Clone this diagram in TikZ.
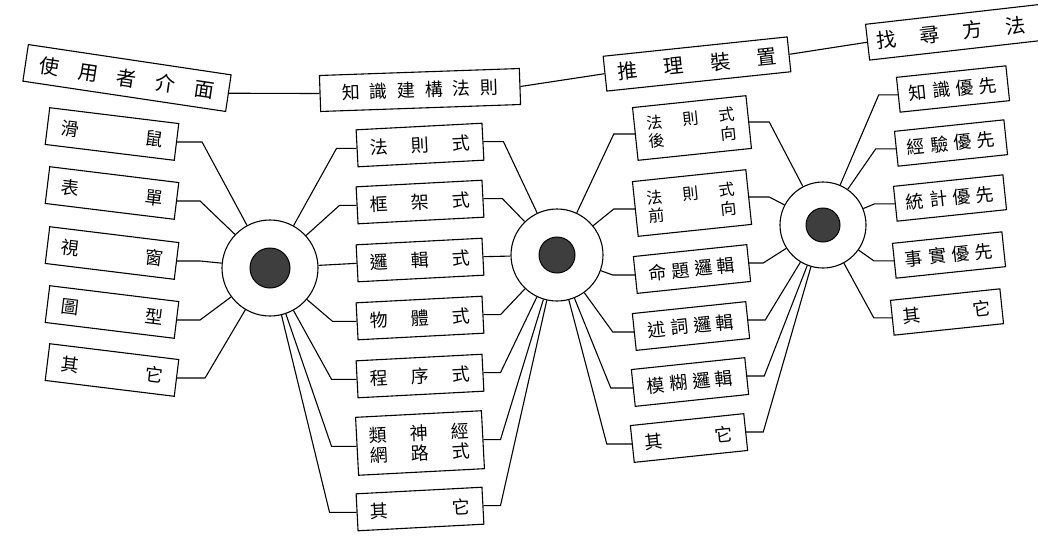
\documentclass[tikz,border=0pt]{standalone}
\usepackage{fontspec}
\newfontfamily\tc{Noto Sans CJK TC}
\definecolor{dot}{RGB}{62,62,62}
\begin{document}
\begin{tikzpicture}[x=1pt,y=-1pt,
  bx/.style={draw, line width=1.1pt, inner sep=0pt, align=center, fill=white},
  fbig/.style={font=\tc\fontsize{20}{23}\selectfont},
  fmid/.style={font=\tc\fontsize{18}{21}\selectfont},
  fsm/.style={font=\tc\fontsize{16}{18.5}\selectfont},
  ln/.style={line width=1.1pt},
  ring/.style={circle, draw, line width=1.1pt, fill=white, inner sep=0pt},
  core/.style={circle, draw, line width=1pt, fill=dot, inner sep=0pt},
  colA/.style={bx, fmid, minimum width=130pt, minimum height=37pt, rotate=-7},
  colB/.style={bx, fmid, minimum width=126pt, minimum height=37pt, rotate=3},
  colC/.style={bx, fmid, minimum width=114pt, minimum height=37pt, rotate=6},
  colD/.style={bx, fmid, minimum width=110pt, minimum height=35pt, rotate=6}]
\useasboundingbox (0,0) rectangle (1038,536);
\clip (0,0) rectangle (1038,536);
\fill[white] (0,0) rectangle (1038,536);

% ---- top row ----
\node[bx, fbig, minimum width=205pt, minimum height=37pt, rotate=-8.5] (ui) at (127,78)
  {\hbox to 176pt{使\hfill 用\hfill 者\hfill 介\hfill 面}};
\node[bx, fmid, minimum width=200pt, minimum height=36pt, rotate=2] (kb) at (420,90)
  {\hbox to 156pt{知\hfill 識\hfill 建\hfill 構\hfill 法\hfill 則}};
\node[bx, fbig, minimum width=185pt, minimum height=35pt, rotate=6] (inf) at (697,64)
  {\hbox to 160pt{推\hfill 理\hfill 裝\hfill 置}};
\node[bx, fbig, minimum width=180pt, minimum height=36pt, rotate=6.5] (srch) at (957,32)
  {\hbox to 150pt{找\hfill 尋\hfill 方\hfill 法}\hspace*{12pt}};
\draw[ln] (ui.east) -- (kb.west);
\draw[ln] (kb.east) -- (inf.west);
\draw[ln] (inf.east) -- (srch.west);

% ---- hubs ----
\node[ring, minimum size=96pt] (c1) at (270,268) {};
\node[core, minimum size=40pt] (d1) at (c1) {};
\node[ring, minimum size=92pt] (c2) at (557,255) {};
\node[core, minimum size=36pt] (d2) at (c2) {};
\node[ring, minimum size=86pt] (c3) at (823,225) {};
\node[core, minimum size=34pt] (d3) at (c3) {};

% ---- column A ----
\node[colA] (a1) at (112,134) {\hbox to 103pt{滑\hfill 鼠}};
\node[colA] (a2) at (112,193) {\hbox to 103pt{表\hfill 單}};
\node[colA] (a3) at (112,253) {\hbox to 103pt{視\hfill 窗}};
\node[colA] (a4) at (112,312) {\hbox to 103pt{圖\hfill 型}};
\node[colA] (a5) at (112,370) {\hbox to 103pt{其\hfill 它}};
\draw[ln] (a1.east) -- ++(25,0) -- (c1);
\draw[ln] (a2.east) -- ++(23,0) -- (c1);
\draw[ln] (a3.east) -- ++(23,0) -- (c1);
\draw[ln] (a4.east) -- ++(23,0) -- (c1);
\draw[ln] (a5.east) -- ++(28,0) -- (c1);

% ---- column B ----
\node[colB] (b1) at (420,145) {\hbox to 100pt{法\hfill 則\hfill 式}};
\node[colB] (b2) at (420,202) {\hbox to 100pt{框\hfill 架\hfill 式}};
\node[colB] (b3) at (420,260) {\hbox to 100pt{邏\hfill 輯\hfill 式}};
\node[colB] (b4) at (420,318) {\hbox to 100pt{物\hfill 體\hfill 式}};
\node[colB] (b5) at (420,376) {\hbox to 100pt{程\hfill 序\hfill 式}};
\node[colB, minimum height=58pt] (b6) at (420,443)
  {\hbox to 100pt{類\hfill 神\hfill 經}\\[-1pt]\hbox to 100pt{網\hfill 路\hfill 式}};
\node[colB] (b7) at (420,509) {\hbox to 100pt{其\hfill 它}};
\draw[ln] (b1.west) -- ++(-20,0) -- (c1);
\draw[ln] (b2.west) -- ++(-17,0) -- (c1);
\draw[ln] (b3.west) -- (c1);
\draw[ln] (b4.west) -- ++(-24,0) -- (c1);
\draw[ln] (b5.west) -- ++(-25,0) -- (c1);
\draw[ln] (b6.west) -- ++(-25,0) -- (c1);
\draw[ln] (b7.west) -- ++(-27,0) -- (c1);
\draw[ln] (b1.east) -- ++(20,0) -- (c2);
\draw[ln] (b2.east) -- ++(19,0) -- (c2);
\draw[ln] (b3.east) -- (c2);
\draw[ln] (b4.east) -- ++(17,0) -- (c2);
\draw[ln] (b5.east) -- ++(17,0) -- (c2);
\draw[ln] (b6.east) -- ++(17,0) -- (c2);
\draw[ln] (b7.east) -- ++(17,0) -- (c2);

% ---- column C ----
\node[colC, fsm, minimum height=53pt] (r1) at (692,128)
  {\hbox to 88pt{法\hfill 則\hfill 式}\\\hbox to 88pt{後\hfill 向}};
\node[colC, fsm, minimum height=55pt] (r2) at (692,203)
  {\hbox to 88pt{法\hfill 則\hfill 式}\\\hbox to 88pt{前\hfill 向}};
\node[colC] (r3) at (692,269) {\hbox to 86pt{命\hfill 題\hfill 邏\hfill 輯}};
\node[colC] (r4) at (691,326) {\hbox to 86pt{述\hfill 詞\hfill 邏\hfill 輯}};
\node[colC] (r5) at (690,382) {\hbox to 86pt{模\hfill 糊\hfill 邏\hfill 輯}};
\node[colC] (r6) at (689,438) {\hbox to 88pt{其\hfill 它}};
\draw[ln] (r1.west) -- ++(-21,0) -- (c2);
\draw[ln] (r2.west) -- ++(-21,0) -- (c2);
\draw[ln] (r3.west) -- ++(-22,0) -- (c2);
\draw[ln] (r4.west) -- ++(-21,0) -- (c2);
\draw[ln] (r5.west) -- ++(-22,0) -- (c2);
\draw[ln] (r6.west) -- ++(-25,0) -- (c2);
\draw[ln] (r1.east) -- ++(20,0) -- (c3);
\draw[ln] (r2.east) -- ++(20,0) -- (c3);
\draw[ln] (r3.east) -- ++(14,0) -- (c3);
\draw[ln] (r4.east) -- ++(17,0) -- (c3);
\draw[ln] (r5.east) -- ++(17,0) -- (c3);
\draw[ln] (r6.east) -- ++(17,0) -- (c3);

% ---- column D ----
\node[colD] (s1) at (953,89) {\hbox to 88pt{知\hfill 識\hfill 優\hfill 先}};
\node[colD] (s2) at (951,143) {\hbox to 88pt{經\hfill 驗\hfill 優\hfill 先}};
\node[colD] (s3) at (950,198) {\hbox to 88pt{統\hfill 計\hfill 優\hfill 先}};
\node[colD] (s4) at (949,255) {\hbox to 88pt{事\hfill 實\hfill 優\hfill 先}};
\node[colD] (s5) at (947,312) {\hbox to 88pt{其\hfill 它}};
\draw[ln] (s1.west) -- ++(-19,0) -- (c3);
\draw[ln] (s2.west) -- ++(-20,0) -- (c3);
\draw[ln] (s3.west) -- ++(-20,0) -- (c3);
\draw[ln] (s4.west) -- ++(-20,0) -- (c3);
\draw[ln] (s5.west) -- ++(-18,0) -- (c3);
\end{tikzpicture}
\end{document}
